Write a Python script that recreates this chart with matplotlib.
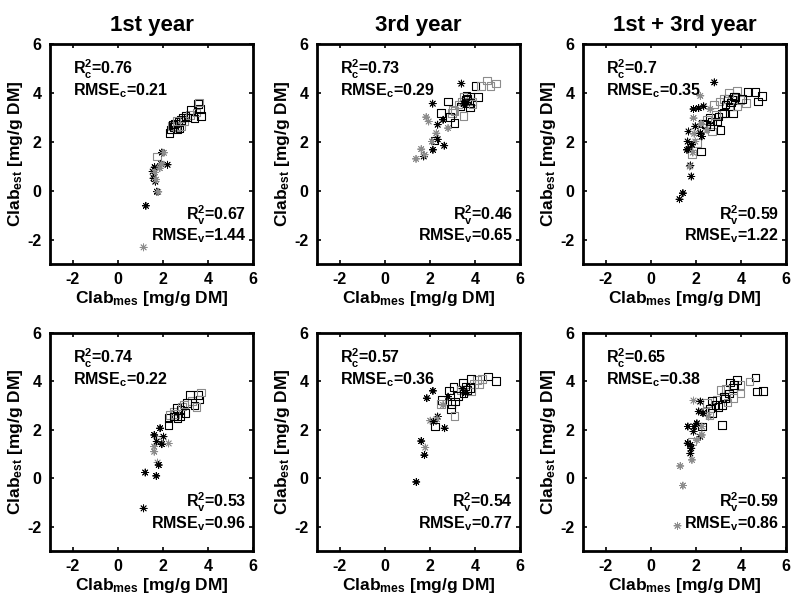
import matplotlib
matplotlib.use("Agg")
import matplotlib.pyplot as plt

plt.rcParams['font.family'] = ['Liberation Sans', 'DejaVu Sans']
plt.rcParams['font.weight'] = 'bold'
plt.rcParams['axes.unicode_minus'] = False
plt.rcParams['mathtext.fontset'] = 'custom'
plt.rcParams['mathtext.rm'] = 'Liberation Sans:bold'
plt.rcParams['mathtext.it'] = 'Liberation Sans:bold'
plt.rcParams['mathtext.bf'] = 'Liberation Sans:bold'

titles = ['1st year', '3rd year', '1st + 3rd year']

# stats per panel (top row then bottom row)
r2_cal = ['0.76', '0.73', '0.7', '0.74', '0.57', '0.65']
rmse_cal = ['0.21', '0.29', '0.35', '0.22', '0.36', '0.38']
r2_val = ['0.67', '0.46', '0.59', '0.53', '0.54', '0.59']
rmse_val = ['1.44', '0.65', '1.22', '0.96', '0.77', '0.86']

# squares: (x, y, gray flag)
sq1 = [(2.30, 2.35, 0), (2.35, 2.50, 0), (2.40, 2.65, 1), (2.50, 2.60, 0), (2.55, 2.75, 0),
       (2.60, 2.60, 1), (2.65, 2.50, 0), (2.70, 2.80, 0), (2.75, 2.55, 0), (2.80, 2.65, 1),
       (2.80, 2.90, 0), (2.90, 3.00, 0), (2.95, 2.85, 1), (3.00, 3.05, 0), (3.10, 3.00, 0),
       (3.20, 3.10, 1), (3.25, 3.30, 0), (3.40, 2.95, 0), (3.50, 3.20, 1), (3.55, 3.55, 0),
       (3.65, 3.35, 0), (3.70, 3.05, 0), (3.60, 3.60, 1), (1.75, 1.40, 1), (2.45, 2.70, 0),
       (2.60, 2.85, 1)]
st1 = [(1.96, 1.56, 0), (2.05, 1.55, 1), (1.92, 1.10, 0), (2.21, 1.06, 0), (1.64, 0.96, 0),
       (1.87, 0.92, 1), (1.55, 0.78, 0), (1.65, 0.75, 1), (1.59, 0.51, 0), (1.67, 0.37, 0),
       (1.70, 0.45, 1), (1.74, -0.04, 0), (1.80, -0.05, 1), (1.25, -0.62, 0), (1.15, -2.32, 1),
       (1.95, 1.10, 1)]

sq2 = [(4.02, 4.27, 0), (4.27, 4.29, 1), (4.54, 4.51, 1), (4.69, 4.27, 1), (4.94, 4.38, 1),
       (4.14, 3.83, 0), (3.80, 3.86, 0), (3.62, 3.88, 0), (3.50, 3.86, 1), (3.87, 3.65, 1),
       (3.73, 3.58, 0), (3.43, 3.65, 1), (3.36, 3.45, 0), (3.28, 3.52, 1), (3.77, 3.41, 0),
       (3.50, 3.06, 1), (3.03, 3.31, 1), (2.99, 3.17, 1), (2.81, 3.65, 0), (2.50, 3.17, 0),
       (2.91, 3.01, 0), (3.09, 2.76, 0), (2.21, 2.05, 0), (3.58, 3.72, 0), (3.68, 3.75, 0),
       (3.90, 3.55, 1), (3.10, 3.25, 1)]
st2 = [(3.40, 4.38, 0), (2.13, 3.56, 0), (1.84, 3.01, 1), (1.95, 2.83, 1), (2.35, 2.70, 0),
       (2.59, 2.90, 0), (2.81, 2.56, 1), (2.29, 2.35, 1), (2.10, 2.01, 1), (2.64, 1.84, 0),
       (2.14, 1.67, 0), (1.62, 1.70, 1), (1.73, 1.40, 0), (1.77, 1.47, 1), (1.39, 1.30, 1),
       (3.50, 3.55, 0), (3.65, 3.60, 0), (2.35, 2.10, 0)]

sq3 = [(3.83, 4.10, 1), (4.30, 4.03, 0), (4.64, 4.03, 0), (4.94, 3.88, 0), (4.75, 3.65, 0),
       (4.24, 3.58, 1), (3.98, 3.72, 1), (3.76, 3.83, 0), (3.61, 3.72, 0), (3.46, 4.00, 1),
       (3.41, 3.75, 0), (3.24, 3.75, 1), (3.06, 3.65, 1), (2.82, 3.52, 1), (3.31, 3.52, 0),
       (3.53, 3.45, 0), (3.65, 3.15, 0), (3.16, 3.15, 0), (3.01, 3.04, 0), (2.64, 2.97, 0),
       (2.72, 2.83, 0), (2.50, 2.90, 1), (2.32, 2.74, 0), (2.27, 2.56, 1), (2.72, 2.42, 1),
       (3.09, 2.49, 0), (2.64, 2.63, 0), (2.05, 1.94, 1), (2.23, 1.60, 0), (1.83, 1.49, 1),
       (2.94, 2.83, 0), (3.24, 3.17, 0), (3.83, 3.45, 1), (4.05, 3.75, 0), (3.70, 3.85, 0),
       (3.55, 3.60, 0), (2.90, 3.10, 1), (2.45, 2.70, 0)]
st3 = [(2.82, 4.43, 0), (2.20, 3.88, 1), (1.90, 3.34, 0), (2.13, 3.38, 0), (2.35, 3.45, 0),
       (2.64, 3.34, 1), (1.90, 2.97, 1), (1.98, 2.63, 0), (1.68, 2.42, 0), (1.93, 2.33, 1),
       (2.20, 2.35, 0), (2.27, 2.22, 0), (1.64, 2.01, 0), (1.98, 2.01, 1), (1.83, 1.88, 0),
       (1.61, 1.67, 0), (1.68, 1.70, 0), (1.87, 1.56, 1), (1.76, 1.03, 0), (1.73, 0.99, 1),
       (1.80, 0.58, 0), (1.43, -0.10, 0), (1.28, -0.35, 0), (2.50, 2.49, 1), (2.23, 2.74, 1)]

sq4 = [(1.82, 1.59, 1), (2.26, 2.21, 0), (2.26, 2.48, 0), (2.33, 2.62, 1), (2.48, 2.76, 1),
       (2.63, 2.90, 0), (2.78, 2.83, 0), (2.85, 2.97, 1), (3.07, 3.11, 0), (3.30, 3.20, 1),
       (3.55, 3.45, 0), (3.62, 3.25, 0), (3.70, 3.55, 1), (3.40, 3.00, 0), (3.50, 2.95, 1),
       (3.00, 2.70, 0), (2.78, 2.55, 0), (2.55, 2.65, 1), (2.65, 2.50, 0), (3.20, 3.45, 0),
       (2.95, 3.05, 1), (2.50, 2.55, 0)]
st4 = [(1.22, 0.24, 0), (1.71, 0.10, 0), (1.15, -1.24, 0), (1.77, 0.65, 1), (1.82, 0.55, 0),
       (1.62, 1.79, 0), (1.88, 2.07, 0), (2.03, 1.72, 0), (1.62, 1.31, 1), (1.62, 1.10, 1),
       (1.96, 1.41, 0), (2.26, 1.44, 1), (1.73, 1.52, 0)]

sq5 = [(4.57, 4.20, 0), (4.94, 4.02, 0), (4.32, 4.10, 1), (4.10, 4.06, 1), (3.83, 4.10, 0),
       (3.47, 3.95, 0), (3.95, 3.90, 1), (4.17, 3.90, 1), (3.06, 3.76, 0), (2.84, 3.62, 0),
       (3.36, 3.65, 1), (3.65, 3.65, 0), (3.84, 3.58, 1), (3.50, 3.51, 0), (3.24, 3.40, 0),
       (3.13, 3.17, 0), (2.96, 3.06, 0), (2.54, 3.24, 0), (2.51, 3.07, 1), (2.94, 2.85, 0),
       (3.09, 2.58, 1), (2.24, 2.14, 0), (3.77, 3.72, 0), (3.58, 3.79, 0)]
st5 = [(2.14, 3.61, 0), (1.87, 3.31, 0), (2.59, 3.03, 1), (2.81, 3.37, 0), (2.35, 2.55, 0),
       (2.32, 2.44, 1), (2.02, 2.38, 1), (2.17, 2.34, 0), (2.66, 2.07, 0), (1.62, 1.54, 0),
       (1.80, 1.27, 1), (1.76, 0.96, 0), (1.40, -0.15, 0), (3.58, 3.51, 0), (3.45, 3.70, 0)]

sq6 = [(4.64, 4.17, 0), (4.38, 3.99, 1), (4.72, 3.58, 0), (4.99, 3.61, 0), (3.83, 4.06, 0),
       (3.53, 3.95, 0), (3.98, 3.86, 1), (3.65, 3.72, 0), (3.31, 3.68, 1), (3.09, 3.65, 1),
       (3.46, 3.51, 0), (3.24, 3.38, 0), (2.94, 3.26, 1), (2.72, 3.21, 0), (2.50, 3.10, 1),
       (2.87, 3.03, 0), (3.16, 3.03, 0), (3.41, 3.13, 1), (3.68, 3.31, 1), (2.64, 2.89, 0),
       (2.42, 2.76, 1), (2.72, 2.69, 0), (2.27, 2.14, 0), (3.16, 2.20, 0), (1.83, 1.52, 1),
       (3.98, 3.51, 1), (3.70, 3.85, 0), (3.00, 2.95, 0), (3.30, 3.30, 0), (2.60, 2.60, 1)]
st6 = [(1.90, 3.21, 1), (2.20, 3.17, 0), (2.13, 2.76, 0), (2.32, 2.69, 0), (2.05, 2.27, 0),
       (1.65, 2.14, 0), (1.93, 2.14, 0), (2.27, 2.14, 1), (1.90, 1.93, 0), (2.20, 1.72, 0),
       (2.05, 1.58, 1), (2.27, 1.79, 1), (1.64, 1.45, 0), (1.76, 1.38, 0), (1.80, 1.24, 0),
       (1.76, 1.03, 0), (1.83, 0.76, 1), (1.31, 0.51, 1), (1.43, -0.30, 1), (1.19, -1.96, 1),
       (2.57, 2.55, 1)]

squares = [sq1, sq2, sq3, sq4, sq5, sq6]
stars = [st1, st2, st3, st4, st5, st6]

GRAY = '#8c8c8c'
W, H = 791, 601
col_left = [50, 317, 583]
row_top = [44, 333]
row_bottom = [264, 551]
ax_w = 203

fig = plt.figure(figsize=(W / 100, H / 100), dpi=100)

for i in range(6):
    r, c = divmod(i, 3)
    ax = fig.add_axes([col_left[c] / W, 1 - row_bottom[r] / H,
                       ax_w / W, (row_bottom[r] - row_top[r]) / H])
    sx = [p[0] for p in squares[i]]
    sy = [p[1] for p in squares[i]]
    scol = [GRAY if p[2] else 'k' for p in squares[i]]
    ax.scatter(sx, sy, marker='s', s=30, facecolors='none', edgecolors=scol, linewidths=0.8)
    tx = [p[0] for p in stars[i]]
    ty = [p[1] for p in stars[i]]
    tcol = [GRAY if p[2] else 'k' for p in stars[i]]
    ax.scatter(tx, ty, marker=(8, 2, 0), s=26, c=tcol, linewidths=0.6)

    ax.set_xlim(-3, 6)
    ax.set_ylim(-3, 6)
    ax.set_xticks([-2, 0, 2, 4, 6])
    ax.set_yticks([-2, 0, 2, 4, 6])
    ax.tick_params(direction='in', length=3, width=1.2, top=True, right=True,
                   labelsize=11.5, pad=6)
    for lab in ax.get_xticklabels() + ax.get_yticklabels():
        lab.set_fontweight('bold')
    for s in ax.spines.values():
        s.set_linewidth(2)

    ax.set_xlabel(r'Clab$_{mes}$ [mg/g DM]', fontsize=12.5, fontweight='bold', labelpad=1)
    ax.set_ylabel(r'Clab$_{est}$ [mg/g DM]', fontsize=12.5, fontweight='bold', labelpad=2)
    if r == 0:
        ax.set_title(titles[c], fontsize=16, fontweight='bold', pad=9)

    ax.text(-2.0, 4.75, r'R$^2_c$=' + r2_cal[i], fontsize=11.5, ha='left', va='baseline')
    ax.text(-2.0, 3.9, r'RMSE$_c$=' + rmse_cal[i], fontsize=11.5, ha='left', va='baseline')
    ax.text(5.7, -1.2, r'R$^2_v$=' + r2_val[i], fontsize=11.5, ha='right', va='baseline')
    ax.text(5.7, -2.05, r'RMSE$_v$=' + rmse_val[i], fontsize=11.5, ha='right', va='baseline')

fig.savefig('out.png', dpi=100)
